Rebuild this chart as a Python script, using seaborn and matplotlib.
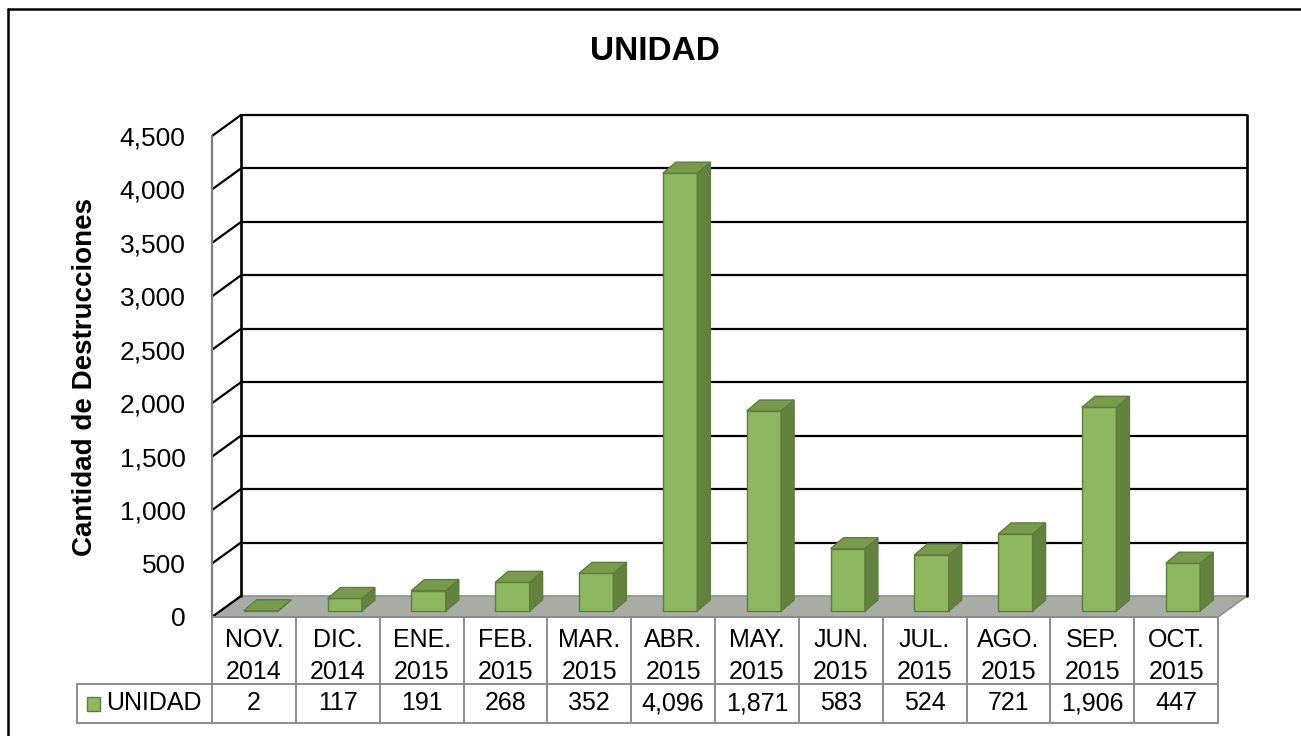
import numpy as np
import matplotlib
matplotlib.use("Agg")
import matplotlib.pyplot as plt
import matplotlib.transforms as mtransforms
import seaborn as sns
from matplotlib.patches import Polygon, Rectangle
from matplotlib.lines import Line2D

# data
months = ['NOV.\n2014', 'DIC.\n2014', 'ENE.\n2015', 'FEB.\n2015', 'MAR.\n2015', 'ABR.\n2015',
          'MAY.\n2015', 'JUN.\n2015', 'JUL.\n2015', 'AGO.\n2015', 'SEP.\n2015', 'OCT.\n2015']
unidad = [2, 117, 191, 268, 352, 4096, 1871, 583, 524, 721, 1906, 447]
y_ticks = list(range(0, 4501, 500))
series_name = 'UNIDAD'

sns.set_theme(style='white')
plt.rcParams['font.family'] = ['Liberation Sans', 'DejaVu Sans']
plt.rcParams['text.color'] = 'black'
plt.rcParams['axes.labelcolor'] = 'black'
plt.rcParams['ytick.color'] = 'black'

W, H = 1301, 736
fig = plt.figure(figsize=(W / 100, H / 100), dpi=100)

# front plane of the pseudo 3D box, in pixels
left, right, bottom, top = 212, 1218, 617, 136
ax = fig.add_axes([left / W, 1 - bottom / H, (right - left) / W, (bottom - top) / H])

n = len(unidad)
x_lo, x_hi = -0.5, n - 0.5
y_max = 4500
dxp = (x_hi - x_lo) / (right - left)   # data units per pixel
dyp = y_max / (bottom - top)

# depth offsets in pixels
wall = (29 * dxp, 21 * dyp)
bar_front = (7 * dxp, 6 * dyp)
bar_depth = (13 * dxp, 11 * dyp)

front_col = '#8DB860'
top_col = '#789A4D'
side_col = '#63823E'
edge_col = '#5E7D3A'

sns.barplot(x=list(range(n)), y=unidad, color=front_col, width=0.41, saturation=1,
            edgecolor=edge_col, linewidth=1, ax=ax, zorder=3)
bars = list(ax.patches)

for rect in bars:
    rect.set_x(rect.get_x() + bar_front[0])
    rect.set_y(rect.get_y() + bar_front[1])
    rect.set_clip_on(False)
    x0 = rect.get_x()
    x1 = x0 + rect.get_width()
    y0 = rect.get_y()
    y1 = y0 + rect.get_height()
    bx, by = bar_depth
    side = Polygon([(x1, y0), (x1 + bx, y0 + by), (x1 + bx, y1 + by), (x1, y1)],
                   closed=True, facecolor=side_col, edgecolor=edge_col, lw=1, zorder=3, clip_on=False)
    topf = Polygon([(x0, y1), (x1, y1), (x1 + bx, y1 + by), (x0 + bx, y1 + by)],
                   closed=True, facecolor=top_col, edgecolor=edge_col, lw=1, zorder=3, clip_on=False)
    ax.add_patch(side)
    ax.add_patch(topf)

wx, wy = wall

# floor
floor = Polygon([(x_lo, 0), (x_hi, 0), (x_hi + wx, wy), (x_lo + wx, wy)], closed=True,
                facecolor='#A7ACA5', edgecolor='#8E928C', lw=1.2, zorder=1, clip_on=False)
ax.add_patch(floor)

# back wall gridlines and side wall diagonals
for yv in y_ticks:
    if yv > 0:
        ax.plot([x_lo + wx, x_hi + wx], [yv + wy, yv + wy], color='black', lw=1.6, zorder=1.5,
                clip_on=False, solid_capstyle='butt')
    ax.plot([x_lo, x_lo + wx], [yv, yv + wy], color='black', lw=1.6, zorder=1.5, clip_on=False)
for xv in (x_lo + wx, x_hi + wx):
    ax.plot([xv, xv], [wy, y_max + wy], color='black', lw=1.9, zorder=1.6, clip_on=False)
ax.plot([x_lo, x_lo], [0, y_max], color='#7F7F7F', lw=1.6, zorder=1.6, clip_on=False)

ax.set_xlim(x_lo, x_hi)
ax.set_ylim(0, y_max)
ax.set_yticks(y_ticks)
ax.set_yticklabels([f'{v:,}' for v in y_ticks], fontsize=19)
ax.tick_params(axis='y', length=0, pad=19)
ax.tick_params(axis='x', bottom=False, labelbottom=False)
ax.set_xlabel('')
for s in ax.spines.values():
    s.set_visible(False)
ax.patch.set_alpha(0)

ax.set_ylabel('Cantidad de Destrucciones', fontsize=20, fontweight='bold')
ax.yaxis.set_label_coords(-0.113, 0.5)

fig.text(655 / W, 1 - 52 / H, series_name, ha='center', va='center', fontsize=24, fontweight='bold')

# data table under the plot: x in data units (one column per category), y in pixels below the floor
tr = mtransforms.blended_transform_factory(ax.transData, ax.transAxes)
def ypx(p):
    return (bottom - p) / (bottom - top)

row_top, row_mid, row_bot = 617, 684, 723
label_left = (77 - left) * dxp + x_lo
grid_kw = dict(color='#8C8C8C', lw=1.4, transform=tr, clip_on=False, zorder=4)
for k in range(n + 1):
    xv = x_lo + k
    ax.plot([xv, xv], [ypx(row_top), ypx(row_bot)], **grid_kw)
ax.plot([x_lo, x_hi], [ypx(row_top), ypx(row_top)], **grid_kw)
ax.plot([label_left, x_hi], [ypx(row_mid), ypx(row_mid)], **grid_kw)
ax.plot([label_left, x_hi], [ypx(row_bot), ypx(row_bot)], **grid_kw)
ax.plot([label_left, label_left], [ypx(row_mid), ypx(row_bot)], **grid_kw)

for i, (m, v) in enumerate(zip(months, unidad)):
    ax.text(i, ypx(656), m, transform=tr, ha='center', va='center', fontsize=18,
            linespacing=1.42, clip_on=False)
    ax.text(i, ypx(703), f'{v:,}', transform=tr, ha='center', va='center', fontsize=18, clip_on=False)

ax.text((106 - left) * dxp + x_lo, ypx(703), series_name, transform=tr, ha='left', va='center',
        fontsize=18, clip_on=False)

# legend key in the row label cell
key = Rectangle(((87 - left) * dxp + x_lo, ypx(711)), 13 * dxp, 14 / (bottom - top), transform=tr,
                facecolor=front_col, edgecolor=edge_col, lw=1, clip_on=False, zorder=5)
ax.add_patch(key)

# chart border (top and left edges visible)
fig.add_artist(Line2D([8 / W, 1], [1 - 9 / H, 1 - 9 / H], color='black', lw=1.8, transform=fig.transFigure))
fig.add_artist(Line2D([8 / W, 8 / W], [0, 1 - 9 / H], color='black', lw=1.8, transform=fig.transFigure))

fig.savefig('out.png', dpi=100)
